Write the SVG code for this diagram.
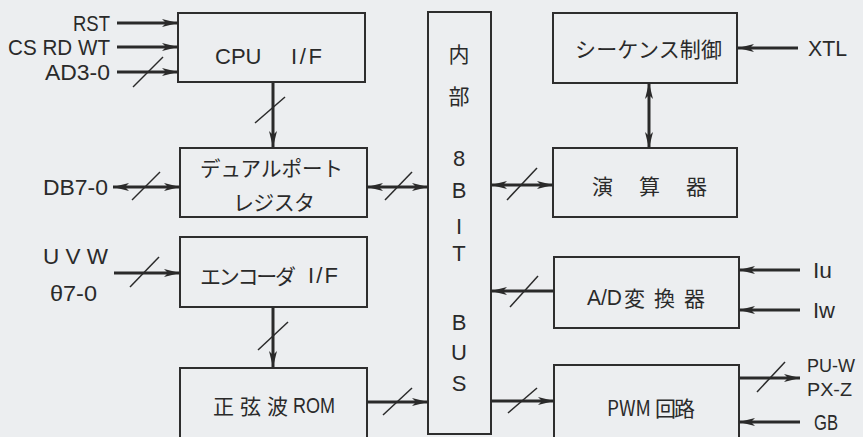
<svg xmlns="http://www.w3.org/2000/svg" width="863" height="437" viewBox="0 0 863 437">
<defs>
<marker id="ah" viewBox="0 0 16 10" refX="16" refY="5" markerWidth="16" markerHeight="10" markerUnits="userSpaceOnUse" orient="auto-start-reverse">
<path d="M0,1 L16,5 L0,9 L4,5 z" fill="#2a2a2a"/>
</marker>
</defs>
<style>
.box{fill:none;stroke:#2e2e2e;stroke-width:2}
.ln{stroke:#2a2a2a;stroke-width:3;fill:none}
.sl{stroke:#2a2a2a;stroke-width:1.5}
.t{font-family:"Liberation Sans","Noto Sans CJK JP",sans-serif;font-size:22px;fill:#2a2a2a;dominant-baseline:central}
.s{font-family:"Liberation Sans",sans-serif;font-size:19px;fill:#2a2a2a;dominant-baseline:central}
.j{font-family:"Noto Sans CJK JP",sans-serif;font-size:21px;fill:#2a2a2a;dominant-baseline:central}
.c{text-anchor:middle}
</style>
<rect width="863" height="437" fill="#eceef0"/>

<g id="cpu">
<rect class="box" x="178" y="13" width="187" height="69"/>
<text class="t" x="215" y="56">CPU</text>
<text class="t" x="291" y="56" textLength="31" lengthAdjust="spacing">I/F</text>
</g>
<g id="dualport">
<rect class="box" x="180" y="148" width="187" height="69"/>
<text class="j" x="200" y="167" textLength="143" lengthAdjust="spacingAndGlyphs">デュアルポート</text>
<text class="j" x="233" y="201" textLength="82">レジスタ</text>
</g>
<g id="encoder">
<rect class="box" x="180" y="237" width="187" height="70"/>
<text class="j" y="275"><tspan x="200" textLength="96">エンコーダ</tspan><tspan x="308" font-family="Liberation Sans" font-size="22" textLength="30" lengthAdjust="spacing">I/F</tspan></text>
</g>
<g id="rom">
<rect class="box" x="180" y="368" width="187" height="80"/>
<text class="j" y="405"><tspan x="213" textLength="75">正弦波</tspan><tspan x="293" font-family="Liberation Sans" font-size="22" textLength="42" lengthAdjust="spacingAndGlyphs">ROM</tspan></text>
</g>
<g id="bus">
<rect class="box" x="428" y="12" width="63" height="422"/>
<text class="j c" x="459" y="53">内</text>
<text class="j c" x="459" y="95">部</text>
<text class="t c" x="459" y="158">8</text>
<text class="t c" x="459" y="190">B</text>
<text class="t c" x="459" y="226">I</text>
<text class="t c" x="459" y="253">T</text>
<text class="t c" x="459" y="322">B</text>
<text class="t c" x="459" y="352">U</text>
<text class="t c" x="459" y="383">S</text>
</g>
<g id="sequence">
<rect class="box" x="553" y="13" width="184" height="70"/>
<text class="j" x="575" y="48" textLength="147">シーケンス制御</text>
</g>
<g id="alu">
<rect class="box" x="553" y="148" width="184" height="69"/>
<text class="j" x="592" y="185" textLength="115">演 算 器</text>
</g>
<g id="adc">
<rect class="box" x="554" y="257" width="185" height="71"/>
<text class="j" y="297"><tspan x="587" font-family="Liberation Sans" font-size="22" textLength="35" lengthAdjust="spacingAndGlyphs">A/D</tspan><tspan x="624" textLength="81">変換器</tspan></text>
</g>
<g id="pwm">
<rect class="box" x="554" y="365" width="185" height="80"/>
<text class="j" x="607" y="407" font-family="Liberation Sans" font-size="22" textLength="44" lengthAdjust="spacingAndGlyphs">PWM</text>
<text class="j" x="655" y="407" textLength="40">回路</text>
</g>

<g id="labels">
<text class="t" x="73" y="23" textLength="37" lengthAdjust="spacingAndGlyphs">RST</text>
<text class="t" x="8" y="47" textLength="102" lengthAdjust="spacingAndGlyphs">CS RD WT</text>
<text class="t" x="45" y="72" textLength="65" lengthAdjust="spacingAndGlyphs">AD3-0</text>
<text class="t" x="43" y="187" textLength="65" lengthAdjust="spacingAndGlyphs">DB7-0</text>
<text class="t" x="43" y="256" textLength="65" lengthAdjust="spacingAndGlyphs">U V W</text>
<text class="t" x="50" y="293" textLength="47" lengthAdjust="spacingAndGlyphs">θ7-0</text>
<text class="t" x="808" y="48" textLength="39" lengthAdjust="spacingAndGlyphs">XTL</text>
<text class="t" x="813" y="270" textLength="19" lengthAdjust="spacingAndGlyphs">Iu</text>
<text class="t" x="813" y="310" textLength="22" lengthAdjust="spacingAndGlyphs">Iw</text>
<text class="s" x="807" y="365" textLength="48" lengthAdjust="spacingAndGlyphs">PU-W</text>
<text class="s" x="807" y="389" textLength="45" lengthAdjust="spacingAndGlyphs">PX-Z</text>
<text class="t" x="814" y="422" textLength="24" lengthAdjust="spacingAndGlyphs">GB</text>
</g>

<g id="connectors">
<line class="ln" x1="117" y1="23" x2="178" y2="23" marker-end="url(#ah)"/>
<line class="ln" x1="117" y1="47" x2="178" y2="47" marker-end="url(#ah)"/>
<line class="ln" x1="117" y1="72" x2="178" y2="72" marker-end="url(#ah)"/>
<line class="sl" x1="133" y1="87" x2="163" y2="57"/>
<line class="ln" x1="273" y1="83" x2="273" y2="147" marker-end="url(#ah)"/>
<line class="sl" x1="255" y1="123" x2="285" y2="97"/>
<line class="ln" x1="113" y1="187" x2="180" y2="187" marker-start="url(#ah)" marker-end="url(#ah)"/>
<line class="sl" x1="132" y1="200" x2="160" y2="172"/>
<line class="ln" x1="367" y1="187" x2="428" y2="187" marker-start="url(#ah)" marker-end="url(#ah)"/>
<line class="sl" x1="385" y1="200" x2="412" y2="172"/>
<line class="ln" x1="114" y1="273" x2="180" y2="273" marker-end="url(#ah)"/>
<line class="sl" x1="130" y1="287" x2="159" y2="257"/>
<line class="ln" x1="273" y1="307" x2="273" y2="367" marker-end="url(#ah)"/>
<line class="sl" x1="258" y1="350" x2="288" y2="322"/>
<line class="ln" x1="367" y1="402" x2="428" y2="402" marker-end="url(#ah)"/>
<line class="sl" x1="383" y1="415" x2="412" y2="388"/>
<line class="ln" x1="491" y1="185" x2="553" y2="185" marker-start="url(#ah)" marker-end="url(#ah)"/>
<line class="sl" x1="507" y1="200" x2="537" y2="168"/>
<line class="ln" x1="649" y1="83" x2="649" y2="148" marker-start="url(#ah)" marker-end="url(#ah)"/>
<line class="ln" x1="798" y1="48" x2="738" y2="48" marker-end="url(#ah)"/>
<line class="ln" x1="554" y1="291" x2="491" y2="291" marker-end="url(#ah)"/>
<line class="sl" x1="510" y1="307" x2="538" y2="276"/>
<line class="ln" x1="800" y1="270" x2="739" y2="270" marker-end="url(#ah)"/>
<line class="ln" x1="800" y1="310" x2="739" y2="310" marker-end="url(#ah)"/>
<line class="ln" x1="491" y1="401" x2="554" y2="401" marker-end="url(#ah)"/>
<line class="sl" x1="508" y1="413" x2="537" y2="388"/>
<line class="ln" x1="739" y1="378" x2="800" y2="378" marker-end="url(#ah)"/>
<line class="sl" x1="757" y1="392" x2="785" y2="362"/>
<line class="ln" x1="800" y1="422" x2="739" y2="422" marker-end="url(#ah)"/>
</g>
</svg>
